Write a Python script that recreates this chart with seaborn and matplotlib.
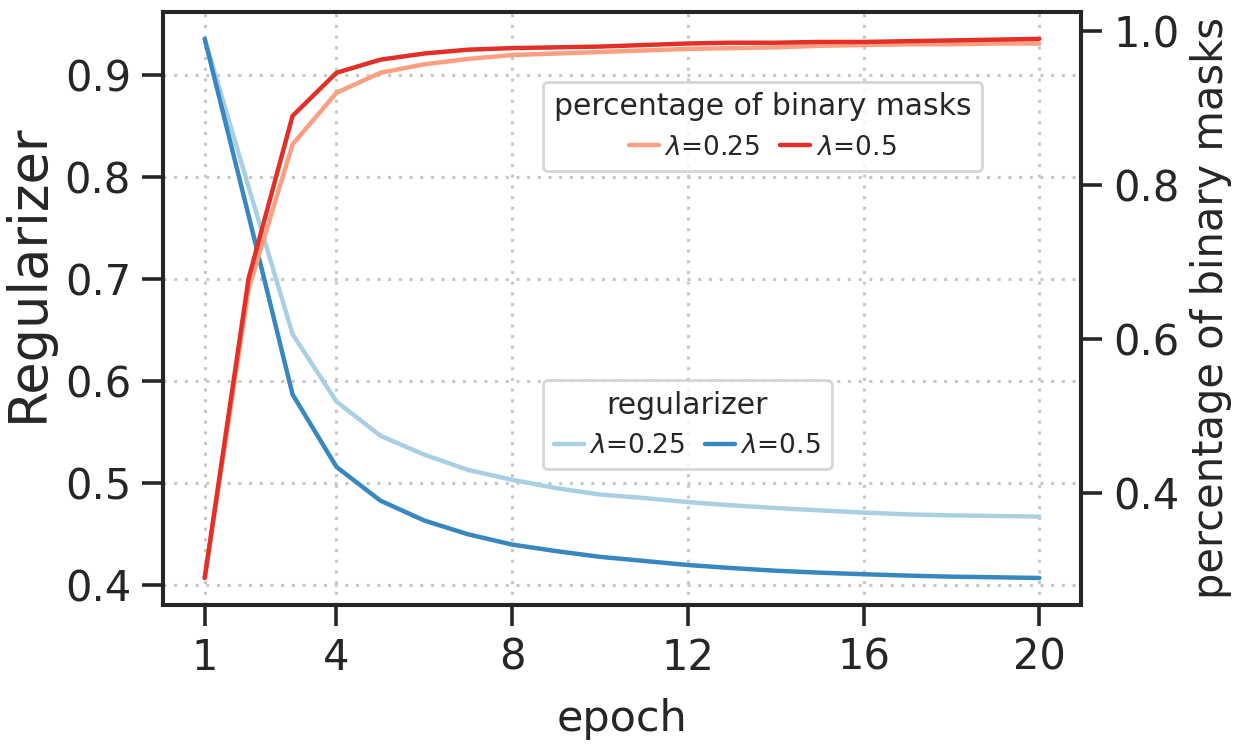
import numpy as np
import pandas as pd
import matplotlib
matplotlib.use("Agg")
import matplotlib.pyplot as plt
import seaborn as sns

# valeurs
epochs = list(range(1, 21))
reg_025 = [0.935, 0.790, 0.646, 0.580, 0.5465, 0.528, 0.513, 0.5034, 0.4953, 0.489,
           0.4856, 0.4816, 0.4784, 0.4758, 0.4735, 0.4713, 0.4696, 0.4686, 0.468, 0.4674]
reg_05 = [0.935, 0.762, 0.587, 0.516, 0.483, 0.4635, 0.450, 0.440, 0.4336, 0.428,
          0.424, 0.420, 0.417, 0.4144, 0.4125, 0.411, 0.4096, 0.4086, 0.408, 0.4073]
bin_025 = [0.290, 0.665, 0.853, 0.920, 0.946, 0.957, 0.964, 0.969, 0.971, 0.973,
           0.975, 0.977, 0.978, 0.979, 0.981, 0.982, 0.983, 0.983, 0.984, 0.984]
bin_05 = [0.290, 0.679, 0.890, 0.946, 0.963, 0.971, 0.976, 0.978, 0.979, 0.980,
          0.982, 0.984, 0.985, 0.985, 0.986, 0.986, 0.987, 0.988, 0.989, 0.990]
lambdas = ["$\\lambda$=0.25", "$\\lambda$=0.5"]
xticks = [1, 4, 8, 12, 16, 20]

sns.set_theme(style="ticks")
plt.rcParams["font.family"] = ["DejaVu Sans"]
plt.rcParams["axes.edgecolor"] = "#262626"
plt.rcParams["axes.linewidth"] = 2.9

df = pd.DataFrame({"epoch": epochs, "reg_025": reg_025, "reg_05": reg_05,
                   "bin_025": bin_025, "bin_05": bin_05})

fig, ax = plt.subplots(figsize=(12.44, 7.45), dpi=100)
fig.subplots_adjust(left=0.131, right=0.869, top=0.984, bottom=0.188)
ax2 = ax.twinx()

blues = ["#a9cfe5", "#3787c0"]
reds = ["#fc9f81", "#e32f27"]

sns.lineplot(data=df, x="epoch", y="reg_025", ax=ax, color=blues[0], lw=3.2, label=lambdas[0])
sns.lineplot(data=df, x="epoch", y="reg_05", ax=ax, color=blues[1], lw=3.2, label=lambdas[1])
sns.lineplot(data=df, x="epoch", y="bin_025", ax=ax2, color=reds[0], lw=3.2, label=lambdas[0])
sns.lineplot(data=df, x="epoch", y="bin_05", ax=ax2, color=reds[1], lw=3.2, label=lambdas[1])

ax.set_xticks(xticks)
ax.set_yticks([0.4, 0.5, 0.6, 0.7, 0.8, 0.9])
ax2.set_yticks([0.4, 0.6, 0.8, 1.0])
ax.grid(True, linestyle=(0, (1, 2.5)), color="#c8c8c8", lw=2.2)
ax2.grid(False)

for a in (ax, ax2):
    a.tick_params(labelsize=30, length=15, width=2.6, pad=8,
                  color="#262626", labelcolor="#262626")
ax.set_xlabel("epoch", fontsize=31, color="#262626", labelpad=14)
ax.set_ylabel("Regularizer", fontsize=38, color="#262626", y=0.56, labelpad=8)
ax2.set_ylabel("percentage of binary masks", fontsize=30, color="#262626", labelpad=8)

leg_kw = dict(ncol=2, fontsize=19, title_fontsize=21.5, loc="upper left",
              handlelength=1.15, handletextpad=0.2, columnspacing=0.75,
              borderaxespad=0, frameon=True, edgecolor="#cccccc", framealpha=0.8)
l1 = ax.legend(title="regularizer", bbox_to_anchor=(0.414, 0.379), **leg_kw)
l2 = ax2.legend(title="percentage of binary masks", bbox_to_anchor=(0.414, 0.882), **leg_kw)
for lg in (l1, l2):
    lg.get_frame().set_linewidth(2)

fig.savefig("out.png", dpi=100)
